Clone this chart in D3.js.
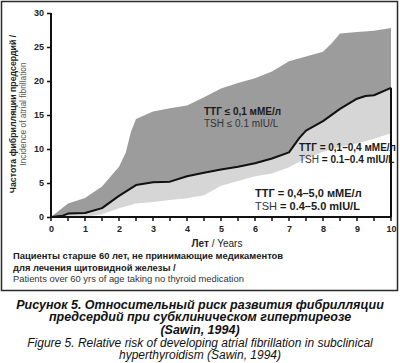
<!DOCTYPE html>
<html>
<head>
<meta charset="utf-8">
<script src="https://cdn.jsdelivr.net/npm/d3@7"></script>
<style>
  body { margin: 0; background: #fff; }
  svg { display: block; font-family: Arial, "Liberation Sans", sans-serif; }
</style>
</head>
<body>
<div id="chart"></div>
<script>
// Upper edge of dark band: TSH <= 0.1 mIU/L
const upperCurve = [[0,0],[0.5,2.0],[1,2.8],[1.5,4.5],[2,7.4],[2.2,9.5],[2.35,12.5],[2.5,14.4],[3,15.5],[3.5,16.0],[4,16.4],[4.5,17.6],[5,18.9],[5.5,19.7],[6,20.4],[6.5,21.4],[7,22.9],[7.5,23.6],[8,24.3],[8.25,25.5],[8.5,27.0],[9,27.2],[9.5,27.4],[10,27.8]];
// Black line: TSH 0.1-0.4 mIU/L
const middleCurve = [[0,0],[0.35,0.2],[0.5,0.5],[1,0.6],[1.5,1.3],[2,3.1],[2.5,4.7],[3,5.1],[3.5,5.2],[4,6.0],[4.5,6.5],[5,7.0],[5.5,7.4],[6,7.9],[6.5,8.6],[7,9.5],[7.3,11.6],[7.5,12.7],[8,14.1],[8.5,15.9],[9,17.4],[9.25,17.8],[9.5,17.9],[10,19.0]];
// Lower edge of light band: TSH 0.4-5.0 mIU/L
const lowerCurve = [[0,0],[1,0],[1.5,0.4],[2,1.3],[2.5,2.0],[3,2.2],[3.5,2.5],[4,2.75],[4.5,3.2],[4.75,3.9],[5,4.6],[5.5,5.3],[6,6.0],[6.5,6.4],[7,7.3],[7.5,8.6],[8,9.6],[8.5,10.3],[9,10.8],[9.5,11.5],[10,12.3]];

const yTicks = [0, 5, 10, 15, 20, 25, 30];
const xTicks = [0, 1, 2, 3, 4, 5, 6, 7, 8, 9, 10];
const xMinorTicks = d3.range(0, 10.01, 0.5);

const W = 400, H = 363;
const svg = d3.select("#chart").append("svg").attr("width", W).attr("height", H);

// outer frame
svg.append("rect")
  .attr("x", 1.5).attr("y", 1.5).attr("width", 396).attr("height", 289)
  .attr("fill", "none").attr("stroke", "#2a2a2a").attr("stroke-width", 1.5);

const x = d3.scaleLinear().domain([0, 10]).range([51, 391]);
const y = d3.scaleLinear().domain([0, 30]).range([217, 13]);

const area = d3.area().x(d => x(d[0])).y0(y(0)).y1(d => y(d[1]));

svg.append("path").datum(upperCurve).attr("d", area).attr("fill", "#9c9c9c");
svg.append("path").datum(middleCurve).attr("d", area).attr("fill", "#d6d6d6");
svg.append("path").datum(lowerCurve).attr("d", area).attr("fill", "#fff");

svg.append("path").datum(middleCurve)
  .attr("d", d3.line().x(d => x(d[0])).y(d => y(d[1])))
  .attr("fill", "none").attr("stroke", "#111").attr("stroke-width", 2).attr("stroke-linejoin", "round");

// closing vertical at the end of the black curve
const last = middleCurve[middleCurve.length - 1];
svg.append("line")
  .attr("x1", x(last[0])).attr("x2", x(last[0]))
  .attr("y1", y(0)).attr("y2", y(last[1]))
  .attr("stroke", "#111").attr("stroke-width", 2);

// axes
const yAxis = svg.append("g").attr("transform", `translate(${x(0)},0)`)
  .call(d3.axisLeft(y).tickValues(yTicks).tickSize(4).tickPadding(3));
const xAxis = svg.append("g").attr("transform", `translate(0,${y(0)})`)
  .call(d3.axisBottom(x).tickValues(xTicks).tickSize(0).tickPadding(9));
svg.append("g").attr("transform", `translate(0,${y(0)})`)
  .selectAll("line").data(xMinorTicks).join("line")
  .attr("x1", d => x(d)).attr("x2", d => x(d)).attr("y1", 0).attr("y2", 4)
  .attr("stroke", "#111").attr("stroke-width", 1.5);

[yAxis, xAxis].forEach(g => {
  g.select(".domain").attr("stroke", "#111").attr("stroke-width", 2);
  g.selectAll(".tick line").attr("stroke", "#111").attr("stroke-width", 1.5);
  g.selectAll(".tick text").attr("font-size", 9).attr("font-weight", "bold").attr("fill", "#222")
    .attr("font-family", "Arial, 'Liberation Sans', sans-serif");
});
yAxis.select(".domain").attr("d", `M0,${y(0)}V${y(30)}`);
xAxis.select(".domain").attr("d", `M${x(0)},0H${x(10)}`);

// x title
const xt = svg.append("text").attr("x", x(5) - 4).attr("y", 247).attr("text-anchor", "middle")
  .attr("font-size", 10).attr("fill", "#222");
xt.append("tspan").attr("font-weight", "bold").text("Лет");
xt.append("tspan").text(" / Years");

// y title
const yt = svg.append("g").attr("transform", "translate(16,114) rotate(-90)");
yt.append("text").attr("text-anchor", "middle").attr("font-size", 8.8).attr("font-weight", "bold")
  .attr("fill", "#222").text("Частота фибрилляции предсердий /");
yt.append("text").attr("y", 10).attr("text-anchor", "middle").attr("font-size", 8.4)
  .attr("fill", "#555").text("Incidence of atrial fibrillation");

// band labels
function bandLabel(cx, cy, ru, en, size) {
  const g = svg.append("g").attr("font-size", size).attr("fill", "#1a1a1a");
  g.append("text").attr("x", cx).attr("y", cy).attr("font-weight", "bold").text(ru);
  const t = g.append("text").attr("x", cx).attr("y", cy + size + 1.5);
  t.append("tspan").attr("fill", "#333").text("TSH ");
  t.append("tspan").attr("font-weight", en.bold ? "bold" : "normal").attr("fill", en.bold ? "#1a1a1a" : "#333").text(en.text);
}
bandLabel(204, 115, "ТТГ ≤ 0,1 мМЕ/л", {text: "≤ 0.1 mIU/L", bold: false}, 10);
bandLabel(299, 151, "ТТГ = 0,1–0,4 мМЕ/л", {text: "= 0.1–0.4 mIU/L", bold: true}, 10);
bandLabel(255, 197, "ТТГ = 0,4–5,0 мМЕ/л", {text: "= 0.4–5.0 mIU/L", bold: true}, 11);

// note
const note = svg.append("g").attr("font-size", 9.4).attr("fill", "#1a1a1a");
note.append("text").attr("x", 13).attr("y", 259).attr("font-weight", "bold")
  .text("Пациенты старше 60 лет, не принимающие медикаментов");
note.append("text").attr("x", 13).attr("y", 270.5).attr("font-weight", "bold")
  .text("для лечения щитовидной железы /");
note.append("text").attr("x", 13).attr("y", 282).attr("fill", "#333")
  .text("Patients over 60 yrs of age taking no thyroid medication");

// caption
const cap = svg.append("g").attr("text-anchor", "middle").attr("font-style", "italic").attr("fill", "#111");
[["Рисунок 5. Относительный риск развития фибрилляции", 308.5, true],
 ["предсердий при субклиническом гипертиреозе", 321, true],
 ["(Sawin, 1994)", 333.5, true],
 ["Figure 5. Relative risk of developing atrial fibrillation in subclinical", 346.5, false],
 ["hyperthyroidism (Sawin, 1994)", 359, false]].forEach(([s, yy, b]) => {
  cap.append("text").attr("x", 200).attr("y", yy).attr("font-size", b ? 12.5 : 12)
    .attr("font-weight", b ? "bold" : "normal").text(s);
});
</script>
</body>
</html>
